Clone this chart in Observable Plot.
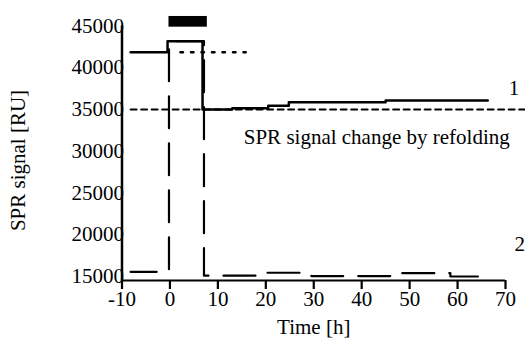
<!DOCTYPE html>
<html>
<head>
<meta charset="utf-8">
<script src="https://cdn.jsdelivr.net/npm/d3@7"></script>
<script src="https://cdn.jsdelivr.net/npm/@observablehq/plot@0.6"></script>
<style>
  html, body { margin: 0; padding: 0; background: #fff; }
  #chart { width: 525px; height: 343px; overflow: hidden; }
</style>
</head>
<body>
<div id="chart"></div>
<script>
// Series 1 (solid, label "1")
const time1   = [-8.2, -0.5, 6.8, 13, 20.5, 24.8, 45, 66.3];
const signal1 = [41860, 43180, 35000, 35150, 35450, 35870, 36080, 36080];
// Series 2 (long dashed, label "2")
const time2   = [-8.2, -0.2, 7.1, 19.5, 29.5, 46.5, 58.5, 65.9];
const signal2 = [15550, 43180, 15100, 15450, 15050, 15400, 15000, 15000];
// Reference lines
const refDashTime  = [-8.2, 74.5];
const refDashValue = 35000;
const refDotTime   = [2.2, 15.8];
const refDotValue  = 41860;
// Injection bar
const barStart = -0.2, barEnd = 7.8, barLow = 44860, barHigh = 46140;
// Ticks and labels
const xTicks = [-10, 0, 10, 20, 30, 40, 50, 60, 70];
const yTicks = [15000, 20000, 25000, 30000, 35000, 40000, 45000];
const xLabel = "Time [h]";
const yLabel = "SPR signal [RU]";
const annotation = "SPR signal change by refolding";
const seriesLabels = ["1", "2"];

const s1 = time1.map((t, i) => ({t, v: signal1[i]}));
const s2 = time2.map((t, i) => ({t, v: signal2[i]}));
const dashRef = refDashTime.map(t => ({t, v: refDashValue}));
const dotRef = refDotTime.map(t => ({t, v: refDotValue}));
const bar = [{x1: barStart, x2: barEnd, y1: barLow, y2: barHigh}];

const font = "'Liberation Serif', 'Times New Roman', serif";

const chart = Plot.plot({
  width: 525,
  height: 343,
  marginLeft: 121.5,
  marginRight: 20,
  marginTop: 25.5,
  marginBottom: 63,
  style: {fontFamily: font, fontSize: "21px", background: "#fff", color: "#000"},
  x: {domain: [-10, 70], axis: null},
  y: {domain: [14520, 45000], axis: null},
  marks: [
    Plot.line(dashRef, {x: "t", y: "v", stroke: "#000", strokeWidth: 2, strokeDasharray: "6,4.5"}),
    Plot.line(dotRef, {x: "t", y: "v", stroke: "#000", strokeWidth: 2.5, strokeDasharray: "2.5,8"}),
    Plot.line(s2, {x: "t", y: "v", curve: "step-after", stroke: "#000", strokeWidth: 2.2, strokeDasharray: "32,15", strokeDashoffset: 6}),
    Plot.line(s1, {x: "t", y: "v", curve: "step-after", stroke: "#000", strokeWidth: 2.5}),
    Plot.rect(bar, {x1: "x1", x2: "x2", y1: "y1", y2: "y2", fill: "#000"}),
    Plot.ruleY([14520], {x1: -10, x2: 70, stroke: "#000", strokeWidth: 2.2}),
    Plot.ruleX([-10], {y1: 14520, y2: 45000, stroke: "#000", strokeWidth: 2.5}),
    Plot.axisX({ticks: xTicks, tickSize: 9, tickPadding: 2, strokeWidth: 2.2, tickFormat: d => String(d), label: null, fontSize: 21}),
    Plot.axisY({ticks: yTicks, tickSize: 0, tickPadding: -2, tickFormat: d => String(d), label: null, fontSize: 21}),
    Plot.text([xLabel], {frameAnchor: "bottom", dy: 53, fontSize: 21, fill: "#000"}),
    Plot.text([yLabel], {x: -31.6, y: 28890, rotate: -90, fontSize: 21, fill: "#000"}),
    Plot.text([annotation], {x: 15.4, y: 31650, textAnchor: "start", fontSize: 21, fill: "#000"}),
    Plot.text(seriesLabels, {x: [70.7, 71.9], y: [37515, 18890], textAnchor: "start", fontSize: 21, fill: "#000"})
  ]
});
document.getElementById("chart").appendChild(chart);
</script>
</body>
</html>
